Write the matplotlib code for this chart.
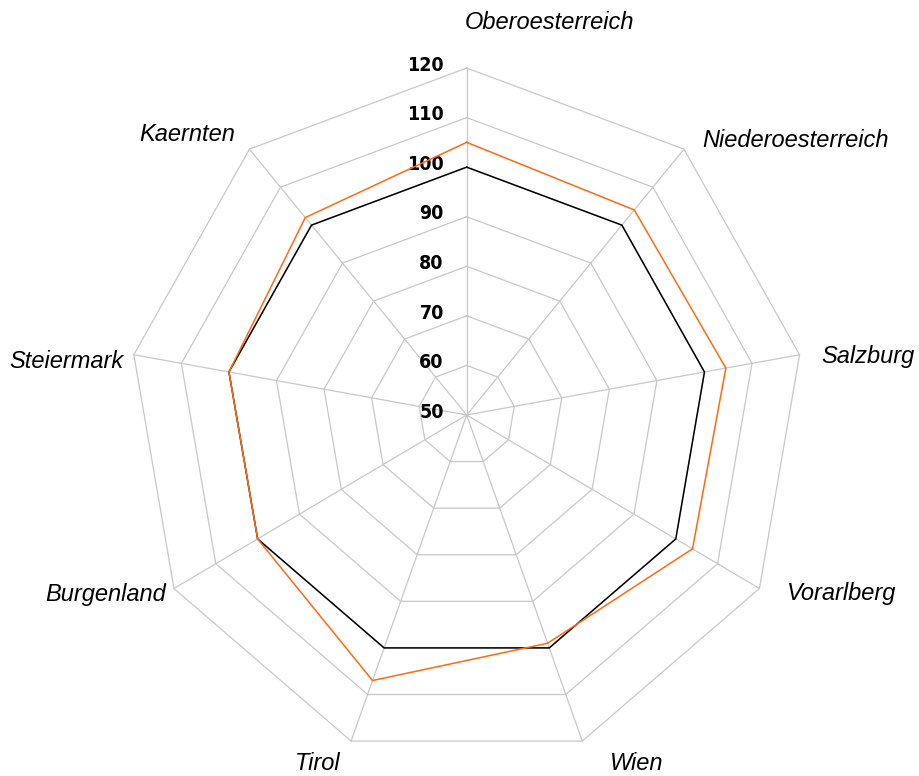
import numpy as np
import matplotlib
matplotlib.use("Agg")
import matplotlib.pyplot as plt
from matplotlib import font_manager

# ---- data ----
categories = ["Oberoesterreich", "Niederoesterreich", "Salzburg", "Vorarlberg",
              "Wien", "Tirol", "Burgenland", "Steiermark", "Kaernten"]
series_black = [100, 100, 100, 100, 100, 100, 100, 100, 100]
series_orange = [105, 104, 104.5, 104, 99, 107, 100, 100, 102]
ring_values = [60, 70, 80, 90, 100, 110, 120]
tick_labels = ["50", "60", "70", "80", "90", "100", "110", "120"]
tick_values = [50, 60, 70, 80, 90, 100, 110, 120]
r_min, r_max = 50, 120

# ---- layout (label placement relative to outer vertex, in pixels) ----
label_layout = {
    "Oberoesterreich": ("left", -2, 45),
    "Niederoesterreich": ("left", 18, 9),
    "Salzburg": ("left", 22, -2),
    "Vorarlberg": ("left", 28, -5),
    "Wien": ("left", 28, -22),
    "Tirol": ("right", -11, -22),
    "Burgenland": ("right", -8, -6),
    "Steiermark": ("right", -10, -7),
    "Kaernten": ("right", -14, 15),
}

available = {f.name for f in font_manager.fontManager.ttflist}
tick_font = "Liberation Sans Narrow" if "Liberation Sans Narrow" in available else "DejaVu Sans"
tick_stretch = "normal" if tick_font == "Liberation Sans Narrow" else "condensed"

W, H, DPI = 919, 776, 100
fig = plt.figure(figsize=(W / DPI, H / DPI), dpi=DPI)
cx, cy = 466.7, 776 - 415
rx, ry = 338, 347
ax = fig.add_axes([(cx - rx) / W, (cy - ry) / H, 2 * rx / W, 2 * ry / H], projection="polar")
ax.set_aspect("auto")
ax.set_theta_zero_location("N")
ax.set_theta_direction(-1)
ax.set_ylim(r_min, r_max)
ax.set_xticks([])
ax.set_yticks([])
ax.grid(False)
ax.spines["polar"].set_visible(False)
ax.patch.set_visible(False)

n = len(categories)
theta = np.arange(n) * 2 * np.pi / n
theta_closed = np.append(theta, theta[0])

grid_color = "#c8c8c8"
for rv in ring_values:
    ax.plot(theta_closed, [rv] * (n + 1), color=grid_color, lw=0.9, zorder=1, clip_on=False)
for t in theta:
    ax.plot([t, t], [r_min, r_max], color=grid_color, lw=0.9, zorder=1, clip_on=False)

ax.plot(theta_closed, series_black + series_black[:1], color="#000000", lw=1.1, zorder=3, clip_on=False)
ax.plot(theta_closed, series_orange + series_orange[:1], color="#ff6a13", lw=1.1, zorder=4, clip_on=False)

for tv, tl in zip(tick_values, tick_labels):
    ax.annotate(tl, xy=(0, tv), xytext=(-16.5, 2), textcoords="offset points",
                ha="right", va="center", fontsize=14, fontweight="bold",
                family=tick_font, fontstretch=tick_stretch, color="#000000",
                annotation_clip=False)

for t, cat in zip(theta, categories):
    ha, dx, dy = label_layout[cat]
    ax.annotate(cat, xy=(t, r_max), xytext=(dx * 0.72, dy * 0.72), textcoords="offset points",
                ha=ha, va="center", fontsize=17, style="italic",
                family=["Liberation Sans", "DejaVu Sans"], color="#000000",
                annotation_clip=False)

fig.savefig("out.png", dpi=DPI)
